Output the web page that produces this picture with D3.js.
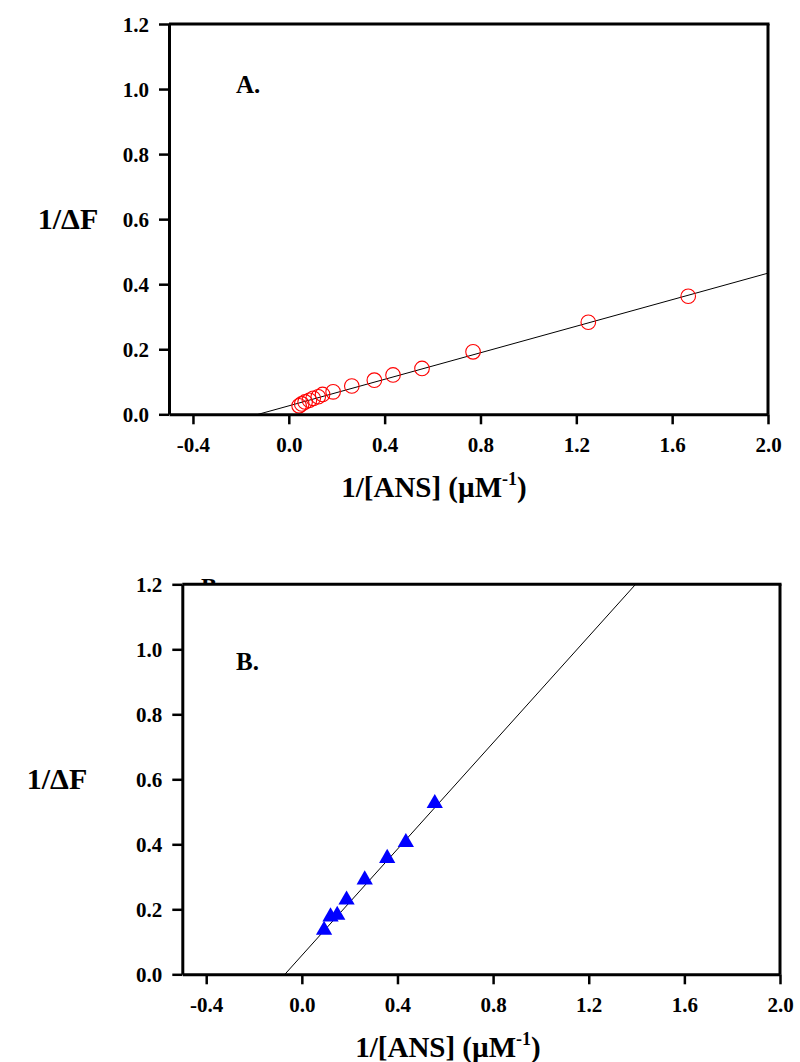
<!DOCTYPE html>
<html>
<head>
  <meta charset="utf-8">
  <title>ANS double reciprocal plots</title>
  <style type="text/css">
    body { margin: 0; background: #fff; }
    svg text { font-family: "Liberation Serif", "Times New Roman", serif; font-weight: bold; fill: #000; }
    .axis path, .axis line { stroke: #000; }
    .axis text { font-size: 21px; }
  </style>
</head>
<body>
<div id="chart"></div>
<script type="text/javascript" src="https://cdnjs.cloudflare.com/ajax/libs/d3/7.8.5/d3.min.js"></script>
<script type="text/javascript">
// shared axis settings
var xDomain = [-0.5, 2.0];
var yDomain = [0, 1.2];
var xTicks = [-0.4, 0.0, 0.4, 0.8, 1.2, 1.6, 2.0];
var yTicks = [0.0, 0.2, 0.4, 0.6, 0.8, 1.0, 1.2];

// panel A : 1/[ANS] vs 1/dF (open red circles)
var xA = [1.667, 1.25, 0.769, 0.556, 0.435, 0.357, 0.263, 0.185, 0.141, 0.123, 0.102, 0.086, 0.068, 0.054, 0.043];
var yA = [0.363, 0.283, 0.192, 0.141, 0.121, 0.105, 0.087, 0.069, 0.061, 0.054, 0.049, 0.043, 0.038, 0.032, 0.026];
var fitA = [0.204, 0.026]; // slope, intercept

// panel B : filled blue triangles
var xB = [0.556, 0.435, 0.357, 0.263, 0.187, 0.148, 0.120, 0.093];
var yB = [0.526, 0.406, 0.357, 0.291, 0.229, 0.182, 0.177, 0.136];
var fitB = [0.818, 0.058];

var fmt = function(d) { return d.toFixed(1) };

var svg = d3.select('#chart').append('svg')
  .attr('width', 800)
  .attr('height', 1062);

var drawPanel = function(cfg) {
  var g = svg.append('g');
  var xSc = d3.scaleLinear().domain(xDomain).range([cfg.left, cfg.right]);
  var ySc = d3.scaleLinear().domain(yDomain).range([cfg.bottom, cfg.top]);

  var clipId = 'clip-' + cfg.id;
  svg.append('clipPath').attr('id', clipId)
    .append('rect')
    .attr('x', cfg.left).attr('y', cfg.top)
    .attr('width', cfg.right - cfg.left).attr('height', cfg.bottom - cfg.top);

  // regression line
  g.append('line')
    .attr('clip-path', 'url(#' + clipId + ')')
    .attr('x1', xSc(xDomain[0])).attr('y1', ySc(cfg.fit[0] * xDomain[0] + cfg.fit[1]))
    .attr('x2', xSc(xDomain[1])).attr('y2', ySc(cfg.fit[0] * xDomain[1] + cfg.fit[1]))
    .attr('stroke', '#000')
    .attr('stroke-width', 1);

  // points
  var pts = cfg.xs.map(function(d, i) { return [d, cfg.ys[i]] });
  if (cfg.marker == 'circle') {
    g.selectAll('circle.pt').data(pts).enter()
      .append('circle')
      .attr('cx', function(d) { return xSc(d[0]) })
      .attr('cy', function(d) { return ySc(d[1]) })
      .attr('r', 7.3)
      .attr('fill', 'none')
      .attr('stroke', '#ff0000')
      .attr('stroke-width', 1.1);
  } else {
    g.selectAll('path.pt').data(pts).enter()
      .append('path')
      .attr('d', d3.symbol().type(d3.symbolTriangle).size(115))
      .attr('transform', function(d) { return 'translate(' + xSc(d[0]) + ',' + ySc(d[1]) + ')' })
      .attr('fill', '#0000ff');
  }

  // frame top + right
  g.append('line')
    .attr('x1', cfg.left).attr('x2', cfg.right + 1.5)
    .attr('y1', cfg.top).attr('y2', cfg.top)
    .attr('stroke', '#000').attr('stroke-width', 3);
  g.append('line')
    .attr('x1', cfg.right).attr('x2', cfg.right)
    .attr('y1', cfg.top).attr('y2', cfg.bottom)
    .attr('stroke', '#000').attr('stroke-width', 3);

  var xAxis = d3.axisBottom(xSc)
    .tickValues(xTicks)
    .tickFormat(fmt)
    .tickSize(10)
    .tickSizeOuter(0)
    .tickPadding(13);
  var yAxis = d3.axisLeft(ySc)
    .tickValues(yTicks)
    .tickFormat(fmt)
    .tickSize(10)
    .tickSizeOuter(0)
    .tickPadding(10);

  var xg = g.append('g').attr('class', 'axis')
    .attr('transform', 'translate(0,' + cfg.bottom + ')')
    .call(xAxis);
  var yg = g.append('g').attr('class', 'axis')
    .attr('transform', 'translate(' + cfg.left + ',0)')
    .call(yAxis);
  xg.select('.domain').attr('stroke-width', 3);
  yg.select('.domain').attr('stroke-width', 3);
  xg.selectAll('.tick line').attr('stroke-width', 2.5);
  yg.selectAll('.tick line').attr('stroke-width', 2.5);
  yg.selectAll('text').attr('dy', '0.35em');
  xg.attr('font-family', null).attr('font-size', null);
  yg.attr('font-family', null).attr('font-size', null);

  // axis titles
  var xt = g.append('text')
    .attr('x', cfg.xTitleX)
    .attr('y', cfg.bottom + 83)
    .attr('text-anchor', 'middle')
    .attr('font-size', 29);
  xt.append('tspan').text('1/[ANS] (\u00B5M');
  xt.append('tspan').text('-1').attr('font-size', 18).attr('dy', -12);
  xt.append('tspan').text(')').attr('dy', 12);

  g.append('text')
    .attr('x', cfg.yTitleX)
    .attr('y', ySc(0.6) + 10)
    .attr('text-anchor', 'middle')
    .attr('font-size', 30)
    .text('1/\u0394F');

  g.append('text')
    .attr('x', cfg.labelX)
    .attr('y', cfg.labelY)
    .attr('font-size', 25)
    .text(cfg.label);
};

drawPanel({ id: 'a', left: 169, right: 768, top: 24, bottom: 414.3,
  xs: xA, ys: yA, fit: fitA, marker: 'circle', label: 'A.',
  labelX: 236, labelY: 93, xTitleX: 434, yTitleX: 68 });
drawPanel({ id: 'b', left: 182.3, right: 780, top: 584.3, bottom: 974.3,
  xs: xB, ys: yB, fit: fitB, marker: 'triangle', label: 'B.',
  labelX: 236, labelY: 670, xTitleX: 448, yTitleX: 57 });

// letter peeking above the top border of panel B
svg.append('clipPath').attr('id', 'peek')
  .append('rect').attr('x', 190).attr('y', 570).attr('width', 40).attr('height', 14);
svg.append('text')
  .attr('clip-path', 'url(#peek)')
  .attr('x', 201).attr('y', 594)
  .attr('font-size', 24)
  .text('B');
</script>
</body>
</html>
